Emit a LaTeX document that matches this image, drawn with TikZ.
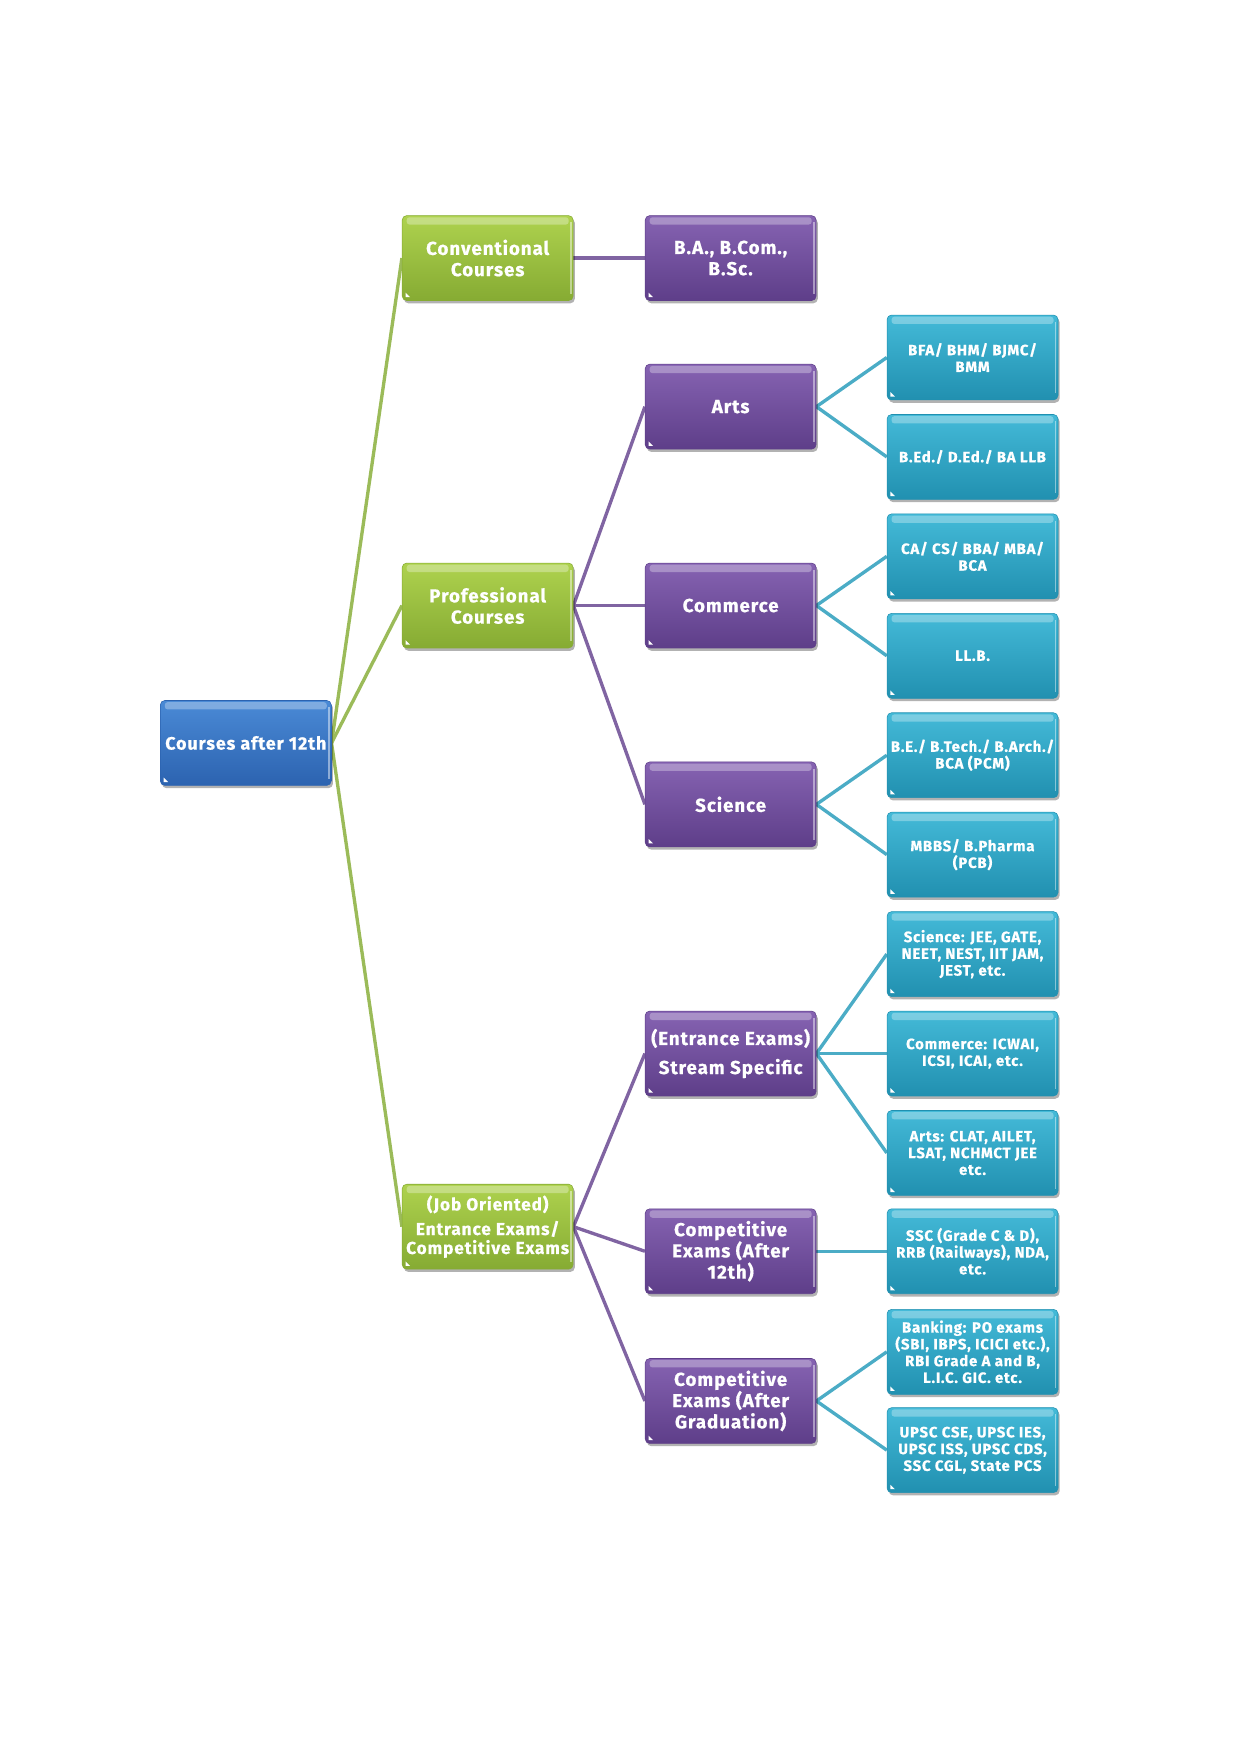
\documentclass[tikz,border=0pt]{standalone}
\usepackage{fontspec}
\setmainfont{Fira Sans}[BoldFeatures={FakeBold=0.6,LetterSpace=5}]
\usetikzlibrary{shadows,backgrounds}
\definecolor{bluetp}{HTML}{4A8AD6}
\definecolor{bluedk}{HTML}{2C63B0}
\definecolor{greentp}{HTML}{AED24E}
\definecolor{greendk}{HTML}{86AB33}
\definecolor{purpletp}{HTML}{8663B2}
\definecolor{purpledk}{HTML}{5E3E89}
\definecolor{tealtp}{HTML}{44BAD8}
\definecolor{tealdk}{HTML}{2190B0}
\definecolor{gline}{HTML}{9BBB59}
\definecolor{pline}{HTML}{8064A2}
\definecolor{tline}{HTML}{4BACC6}
\newcommand\BigBoxFont{\fontsize{16.8}{19}\selectfont\bfseries}
\newcommand\RootBoxFont{\fontsize{16}{19}\selectfont\bfseries}
\newcommand\JobBoxFont{\fontsize{15.5}{17}\selectfont\bfseries}
\newcommand\SmallBoxFont{\fontsize{13.4}{15}\selectfont\bfseries}
\tikzset{
  box/.style={rectangle, rounded corners=4pt, minimum width=153pt, minimum height=76pt,
    inner sep=1pt, align=center, text=white, draw=#1dk, line width=0.5pt,
    top color=#1tp, bottom color=#1dk,
    drop shadow={shadow xshift=1.5pt, shadow yshift=-2.5pt, opacity=0.3, fill=black},
    path picture={
      \fill[white,opacity=0.3,rounded corners=2.5pt]
        ([xshift=4pt,yshift=-1.5pt]path picture bounding box.north west) rectangle
        ([xshift=-4pt,yshift=-8pt]path picture bounding box.north east);
      \draw[white,opacity=0.45,line width=1.2pt]
        ([xshift=-2pt,yshift=-6pt]path picture bounding box.north east) --
        ([xshift=-2pt,yshift=6pt]path picture bounding box.south east);
      \fill[white,sharp corners]
        ([xshift=3pt,yshift=3pt]path picture bounding box.south west) -- ++(0pt,4pt) -- ++(4pt,-4pt) -- cycle;
    }},
  bigbox/.style={box=#1, font=\BigBoxFont},
  smallbox/.style={box=#1, font=\SmallBoxFont},
  conn/.style={draw=#1, line width=3pt},
}
\begin{document}
\begin{tikzpicture}[x=1pt,y=-1pt]
\useasboundingbox (0,0) rectangle (1110,1570);
% level 0
\node[bigbox=blue, font=\RootBoxFont] (root) at (220,665) {Courses after 12th};
% level 1
\node[bigbox=green] (conv) at (436.5,231) {Conventional\\Courses};
\node[bigbox=green] (prof) at (436.5,542) {Professional\\Courses};
\node[bigbox=green, font=\JobBoxFont] (job) at (436.5,1098) {(Job Oriented)\\[5pt]Entrance Exams/\\Competitive Exams};
% level 2
\node[bigbox=purple] (ba) at (654,231) {B.A., B.Com.,\\B.Sc.};
\node[bigbox=purple] (arts) at (654,364) {Arts};
\node[bigbox=purple] (comm) at (654,542) {Commerce};
\node[bigbox=purple] (sci) at (654,720) {Science};
\node[bigbox=purple] (ent) at (654,943) {(Entrance Exams)\\[7pt]Stream Specific};
\node[bigbox=purple] (c12) at (654,1120) {Competitive\\Exams (After\\12th)};
\node[bigbox=purple] (cg) at (654,1254) {Competitive\\Exams (After\\Graduation)};
% level 3
\node[smallbox=teal] (t1) at (870.5,320) {BFA/ BHM/ BJMC/\\BMM};
\node[smallbox=teal] (t2) at (870.5,409) {B.Ed./ D.Ed./ BA LLB};
\node[smallbox=teal] (t3) at (870.5,498) {CA/ CS/ BBA/ MBA/\\BCA};
\node[smallbox=teal] (t4) at (870.5,587) {LL.B.};
\node[smallbox=teal] (t5) at (870.5,676) {B.E./ B.Tech./ B.Arch./\\BCA (PCM)};
\node[smallbox=teal] (t6) at (870.5,765) {MBBS/ B.Pharma\\(PCB)};
\node[smallbox=teal] (t7) at (870.5,854) {Science: JEE, GATE,\\NEET, NEST, IIT JAM,\\JEST, etc.};
\node[smallbox=teal] (t8) at (870.5,943) {Commerce: ICWAI,\\ICSI, ICAI, etc.};
\node[smallbox=teal] (t9) at (870.5,1032) {Arts: CLAT, AILET,\\LSAT, NCHMCT JEE\\etc.};
\node[smallbox=teal] (t10) at (870.5,1120) {SSC (Grade C \& D),\\RRB (Railways), NDA,\\etc.};
\node[smallbox=teal] (t11) at (870.5,1210) {Banking: PO exams\\(SBI, IBPS, ICICI etc.),\\RBI Grade A and B,\\L.I.C. GIC. etc.};
\node[smallbox=teal] (t12) at (870.5,1298) {UPSC CSE, UPSC IES,\\UPSC ISS, UPSC CDS,\\SSC CGL, State PCS};
% connectors
\begin{scope}[on background layer]
\draw[conn=gline] (root.east) -- (conv.west);
\draw[conn=gline] (root.east) -- (prof.west);
\draw[conn=gline] (root.east) -- (job.west);
\draw[conn=pline] (conv.east) -- (ba.west);
\draw[conn=pline] (prof.east) -- (arts.west);
\draw[conn=pline] (prof.east) -- (comm.west);
\draw[conn=pline] (prof.east) -- (sci.west);
\draw[conn=pline] (job.east) -- (ent.west);
\draw[conn=pline] (job.east) -- (c12.west);
\draw[conn=pline] (job.east) -- (cg.west);
\draw[conn=tline] (arts.east) -- (t1.west);
\draw[conn=tline] (arts.east) -- (t2.west);
\draw[conn=tline] (comm.east) -- (t3.west);
\draw[conn=tline] (comm.east) -- (t4.west);
\draw[conn=tline] (sci.east) -- (t5.west);
\draw[conn=tline] (sci.east) -- (t6.west);
\draw[conn=tline] (ent.east) -- (t7.west);
\draw[conn=tline] (ent.east) -- (t8.west);
\draw[conn=tline] (ent.east) -- (t9.west);
\draw[conn=tline] (c12.east) -- (t10.west);
\draw[conn=tline] (cg.east) -- (t11.west);
\draw[conn=tline] (cg.east) -- (t12.west);
\end{scope}
\end{tikzpicture}
\end{document}
